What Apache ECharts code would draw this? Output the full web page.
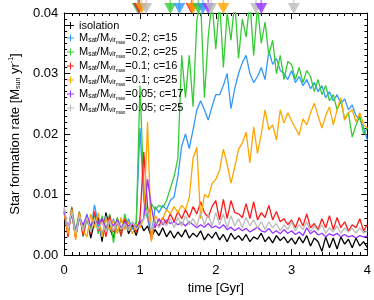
<!DOCTYPE html>
<html><head><meta charset="utf-8">
<script src="https://cdn.jsdelivr.net/npm/echarts@6/dist/echarts.min.js"></script>
<style>html,body{margin:0;padding:0;background:#fff}#c{width:374px;height:300px}</style>
</head><body><div id="c"></div>
<script>
// sample times are every 0.05 Gyr from 0 to 4
const step = 0.05;

const isolation = [0.0072,0.0040,0.0070,0.0030,0.0068,0.0035,0.0066,0.0028,0.0055,0.0062,
0.0022,0.0070,0.0045,0.0028,0.0060,0.0040,0.0058,0.0035,0.0050,0.0032,
0.0055,0.0040,0.0048,0.0030,0.0042,0.0032,0.0045,0.0030,0.0040,0.0028,
0.0038,0.0030,0.0042,0.0028,0.0036,0.0030,0.0040,0.0025,0.0035,0.0028,
0.0038,0.0025,0.0034,0.0022,0.0036,0.0026,0.0032,0.0024,0.0034,0.0022,
0.0030,0.0026,0.0036,0.0022,0.0030,0.0020,0.0032,0.0024,0.0030,0.0020,
0.0028,0.0018,0.0030,0.0020,0.0032,0.0015,0.0028,0.0022,0.0006,0.0030,
0.0012,0.0028,0.0010,0.0030,0.0018,0.0026,0.0012,0.0028,0.0015,0.0022,
0.0012];

const r02c15 = [0.0075,0.0040,0.0070,0.0030,0.0060,0.0045,0.0068,0.0040,0.0083,0.0050,
0.0030,0.0065,0.0040,0.0060,0.0038,0.0058,0.0045,0.0060,0.0042,0.0055,
0.0210,0.0090,0.0060,0.0030,0.0080,0.0070,0.0082,0.0075,0.0090,0.0096,
0.0130,0.0180,0.0200,0.0176,0.0207,0.0240,0.0255,0.0240,0.0223,0.0245,
0.0265,0.0265,0.0280,0.0300,0.0242,0.0275,0.0300,0.0318,0.0330,0.0300,
0.0285,0.0295,0.0310,0.0290,0.0338,0.0315,0.0325,0.0305,0.0300,0.0290,
0.0305,0.0285,0.0295,0.0280,0.0290,0.0275,0.0285,0.0270,0.0280,0.0260,
0.0270,0.0255,0.0265,0.0250,0.0258,0.0240,0.0248,0.0230,0.0225,0.0210,
0.0190];

const r02c25 = [0.0078,0.0035,0.0080,0.0040,0.0072,0.0030,0.0060,0.0045,0.0068,0.0035,
0.0065,0.0040,0.0068,0.0020,0.0062,0.0030,0.0068,0.0040,0.0055,0.0045,
0.0280,0.0110,0.0060,0.0085,0.0075,0.0082,0.0078,0.0090,0.0110,0.0130,
0.0160,0.0330,0.0260,0.0330,0.0245,0.0388,0.0420,0.0260,0.0360,0.0420,
0.0340,0.0420,0.0310,0.0400,0.0355,0.0420,0.0325,0.0390,0.0360,0.0420,
0.0330,0.0410,0.0350,0.0385,0.0330,0.0355,0.0300,0.0330,0.0290,0.0320,
0.0315,0.0290,0.0310,0.0285,0.0305,0.0295,0.0270,0.0290,0.0265,0.0280,
0.0255,0.0265,0.0240,0.0255,0.0225,0.0235,0.0195,0.0215,0.0230,0.0200,
0.0210];

const r01c16 = [0.0070,0.0030,0.0078,0.0028,0.0070,0.0032,0.0065,0.0035,0.0072,0.0040,
0.0060,0.0030,0.0065,0.0038,0.0055,0.0032,0.0060,0.0040,0.0052,0.0038,
0.0060,0.0170,0.0080,0.0025,0.0055,0.0048,0.0062,0.0052,0.0068,0.0055,
0.0072,0.0060,0.0075,0.0062,0.0080,0.0068,0.0088,0.0070,0.0062,0.0080,
0.0090,0.0058,0.0092,0.0060,0.0090,0.0070,0.0068,0.0062,0.0085,0.0060,
0.0088,0.0058,0.0070,0.0062,0.0082,0.0058,0.0072,0.0055,0.0060,0.0050,
0.0058,0.0045,0.0062,0.0048,0.0068,0.0045,0.0052,0.0042,0.0060,0.0045,
0.0065,0.0042,0.0062,0.0045,0.0055,0.0040,0.0050,0.0045,0.0060,0.0040,
0.0050];

const r01c25 = [0.0068,0.0035,0.0075,0.0025,0.0070,0.0040,0.0030,0.0068,0.0045,0.0070,
0.0030,0.0062,0.0040,0.0058,0.0035,0.0062,0.0042,0.0055,0.0035,0.0050,
0.0045,0.0060,0.0220,0.0022,0.0065,0.0055,0.0060,0.0075,0.0068,0.0080,
0.0070,0.0082,0.0075,0.0095,0.0160,0.0178,0.0060,0.0100,0.0095,0.0118,
0.0125,0.0140,0.0175,0.0150,0.0119,0.0145,0.0175,0.0185,0.0203,0.0152,
0.0212,0.0168,0.0200,0.0240,0.0207,0.0215,0.0190,0.0240,0.0218,0.0235,
0.0222,0.0210,0.0198,0.0225,0.0215,0.0235,0.0251,0.0230,0.0210,0.0230,
0.0245,0.0215,0.0240,0.0260,0.0223,0.0235,0.0240,0.0220,0.0235,0.0215,
0.0210];

const r005c17 = [0.0072,0.0045,0.0068,0.0040,0.0062,0.0050,0.0065,0.0048,0.0058,0.0052,
0.0060,0.0045,0.0055,0.0048,0.0058,0.0045,0.0055,0.0048,0.0052,0.0045,
0.0055,0.0060,0.0125,0.0080,0.0045,0.0060,0.0050,0.0058,0.0052,0.0055,
0.0050,0.0054,0.0048,0.0055,0.0050,0.0045,0.0050,0.0046,0.0052,0.0045,
0.0048,0.0044,0.0050,0.0042,0.0046,0.0040,0.0045,0.0040,0.0044,0.0038,
0.0042,0.0046,0.0040,0.0038,0.0044,0.0036,0.0040,0.0035,0.0042,0.0036,
0.0040,0.0034,0.0038,0.0032,0.0045,0.0035,0.0040,0.0033,0.0036,0.0030,
0.0035,0.0032,0.0036,0.0030,0.0034,0.0030,0.0032,0.0028,0.0032,0.0030,
0.0031];

const r005c25 = [0.0080,0.0042,0.0072,0.0035,0.0065,0.0040,0.0062,0.0038,0.0060,0.0042,
0.0055,0.0038,0.0058,0.0040,0.0055,0.0042,0.0052,0.0040,0.0055,0.0042,
0.0050,0.0060,0.0075,0.0040,0.0058,0.0045,0.0055,0.0048,0.0060,0.0045,
0.0062,0.0048,0.0065,0.0050,0.0060,0.0048,0.0070,0.0050,0.0068,0.0048,
0.0070,0.0050,0.0068,0.0045,0.0065,0.0048,0.0060,0.0045,0.0062,0.0048,
0.0058,0.0045,0.0055,0.0042,0.0055,0.0045,0.0052,0.0040,0.0050,0.0042,
0.0055,0.0040,0.0050,0.0042,0.0055,0.0038,0.0048,0.0040,0.0050,0.0036,
0.0045,0.0038,0.0048,0.0036,0.0045,0.0038,0.0044,0.0036,0.0045,0.0036,
0.0040];

// arrows at the top of the frame (time, series)
const arrowTimes  = [0.97, 0.99, 0.99, 1.02, 1.08, 1.40, 1.52, 1.68, 1.70, 1.77, 1.83, 1.90, 1.94, 2.10, 2.53, 2.60, 3.03];
const arrowSeries = ['g', 'b', 'r', 'o', 'k2', 'g', 'b', 'r', 'o', 'g', 'b', 'p', 'k2', 'o', 'k2', 'p', 'k2'];

const xTicks = [0, 1, 2, 3, 4];
const yTicks = [0, 0.01, 0.02, 0.03, 0.04];

const colors = { k: '#000000', b: '#3399ff', g: '#33cc33', r: '#ff1a1a', o: '#ffa500', p: '#9933ff', k2: '#bbbbbb' };

const seriesDefs = [
  { key: 'k',  name: 'isolation', data: isolation, ratio: null, c: null },
  { key: 'b',  name: 's1', data: r02c15, ratio: '0.2', c: 15 },
  { key: 'g',  name: 's2', data: r02c25, ratio: '0.2', c: 25 },
  { key: 'r',  name: 's3', data: r01c16, ratio: '0.1', c: 16 },
  { key: 'o',  name: 's4', data: r01c25, ratio: '0.1', c: 25 },
  { key: 'p',  name: 's5', data: r005c17, ratio: '0.05', c: 17 },
  { key: 'k2', name: 's6', data: r005c25, ratio: '0.05', c: 25 }
];

const FONT = 'Liberation Sans, Arial, Helvetica, sans-serif';

const lineSeries = seriesDefs.map(d => ({
  type: 'line',
  name: d.name,
  data: d.data.map((v, i) => [+(i * step).toFixed(2), v]),
  showSymbol: false,
  symbol: 'none',
  color: colors[d.key],
  lineStyle: { width: 1.3, color: colors[d.key] },
  clip: true,
  z: 2
}));

const shaftSeries = {
  type: 'scatter', silent: true, clip: false, z: 5,
  data: arrowTimes.map((t, i) => ({ value: [t, 0.04], itemStyle: { color: colors[arrowSeries[i]], opacity: 0.6 } })),
  symbol: 'rect', symbolSize: [1.6, 13], symbolOffset: [0, -10]
};
const triSeries = {
  type: 'scatter', silent: true, clip: false, z: 6,
  data: arrowTimes.map((t, i) => ({ value: [t, 0.04], itemStyle: { color: colors[arrowSeries[i]] } })),
  symbol: 'path://M0,0 L10,0 L5,9 Z', symbolSize: [12, 11], symbolOffset: [0, -4.5]
};

const legendRich = {
  m: { fontSize: 11, lineHeight: 10.5, color: '#000', fontFamily: FONT },
  sub: { fontSize: 6.5, lineHeight: 5, padding: [5, 0, 0, 0], color: '#000', fontFamily: FONT },
  sub2: { fontSize: 5, lineHeight: 1, padding: [9, 0, 0, 0], color: '#000', fontFamily: FONT }
};

function legendLabel(name) {
  const d = seriesDefs.find(s => s.name === name);
  if (!d.ratio) return '{m|' + name + '}';
  return '{m|M}{sub|sat}{m|/M}{sub|vir}{sub2|max}{m|=' + d.ratio + '; c=' + d.c + '}';
}

const axisCommon = {
  type: 'value',
  axisLine: { show: true, onZero: false, lineStyle: { color: '#000', width: 1 } },
  axisTick: { show: true, inside: true, length: 6, lineStyle: { color: '#000', width: 1 } },
  minorTick: { show: true, splitNumber: 10, length: 3, lineStyle: { color: '#000', width: 1 } },
  splitLine: { show: false },
  minorSplitLine: { show: false }
};

const chart = echarts.init(document.getElementById('c'), null, { renderer: 'canvas' });
chart.setOption({
  animation: false,
  backgroundColor: '#fff',
  textStyle: { fontFamily: FONT },
  grid: { left: 57, right: 5, top: 13, bottom: 45 },
  legend: {
    data: seriesDefs.map(d => d.name),
    orient: 'vertical',
    left: 62, top: 15,
    itemGap: 0,
    itemWidth: 7, itemHeight: 7,
    icon: 'path://M4.3,0 L5.7,0 L5.7,4.3 L10,4.3 L10,5.7 L5.7,5.7 L5.7,10 L4.3,10 L4.3,5.7 L0,5.7 L0,4.3 L4.3,4.3 Z',
    itemStyle: { borderWidth: 0 },
    formatter: legendLabel,
    textStyle: { rich: legendRich, fontSize: 11, lineHeight: 10.5, color: '#000', fontFamily: FONT },
    selectedMode: false
  },
  xAxis: [
    Object.assign({}, axisCommon, {
      min: xTicks[0], max: xTicks[xTicks.length - 1], interval: 1, position: 'bottom',
      axisLabel: { show: true, margin: 9, fontSize: 13, color: '#000', fontFamily: FONT },
      name: 'time [Gyr]', nameLocation: 'middle', nameGap: 21,
      nameTextStyle: { fontSize: 13, color: '#000', fontFamily: FONT }
    }),
    Object.assign({}, axisCommon, {
      min: xTicks[0], max: xTicks[xTicks.length - 1], interval: 1, position: 'top',
      axisLabel: { show: false }
    })
  ],
  yAxis: [
    Object.assign({}, axisCommon, {
      min: yTicks[0], max: yTicks[yTicks.length - 1], interval: 0.01, position: 'left',
      axisLabel: { show: true, margin: 6, fontSize: 13, color: '#000', fontFamily: FONT, formatter: v => v.toFixed(2) },
      name: '{t|Star formation rate [M}{sub|sun}{t| yr}{sup|-1}{t|]}',
      nameLocation: 'middle', nameGap: 36, nameRotate: 90,
      nameTextStyle: {
        fontSize: 13, color: '#000', fontFamily: FONT,
        rich: {
          t: { fontSize: 13, lineHeight: 14, color: '#000', fontFamily: FONT },
          sub: { fontSize: 7, lineHeight: 6, padding: [7, 0, 0, 0], color: '#000', fontFamily: FONT },
          sup: { fontSize: 7, lineHeight: 6, padding: [0, 0, 7, 0], color: '#000', fontFamily: FONT }
        }
      }
    }),
    Object.assign({}, axisCommon, {
      min: yTicks[0], max: yTicks[yTicks.length - 1], interval: 0.01, position: 'right',
      axisLabel: { show: false }
    })
  ],
  series: lineSeries.concat([shaftSeries, triSeries])
});
</script></body></html>
